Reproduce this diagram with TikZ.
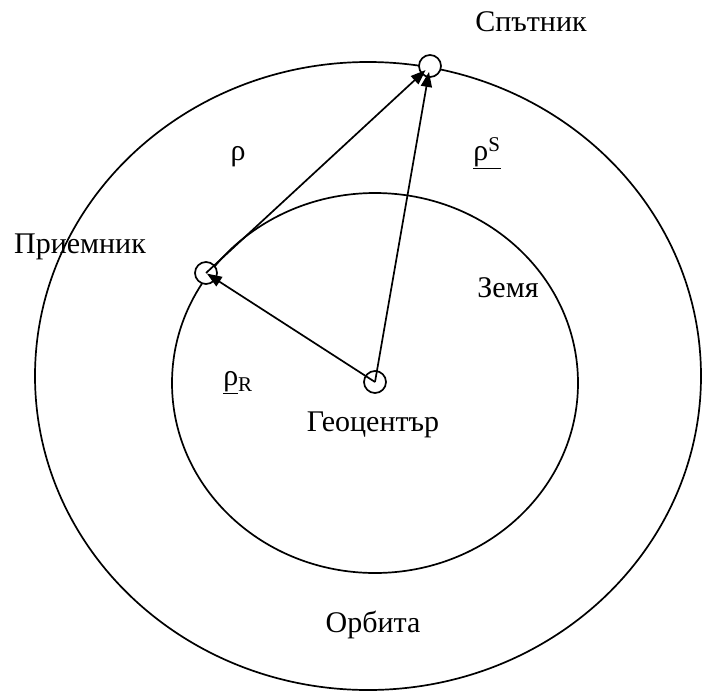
\documentclass[tikz,border=0pt]{standalone}
\usepackage{fontspec}
\setmainfont{Liberation Serif}
\usetikzlibrary{arrows.meta, positioning}

\begin{document}
\begin{tikzpicture}[
  x=1pt, y=-1pt,
  dot/.style={draw, circle, fill=white, minimum size=22pt, inner sep=0pt},
  lbl/.style={font=\fontsize{30}{36}\selectfont, inner sep=0pt},
  vec/.style={-{Triangle[length=15pt, width=11pt]}},
  line width=1.7pt
]
\useasboundingbox (0,0) rectangle (702,691);
% orbit and earth
\draw (368,376) ellipse [x radius=333, y radius=314];
\draw (375,383) ellipse [x radius=203, y radius=190];
\node[dot] (sat) at (430,66) {};
\node[dot] (rec) at (206,273) {};
\node[dot] (geo) at (375,382) {};
\draw[vec, shorten >=6pt] (geo.center) -- (sat.center);
\draw[vec, shorten >=6pt] (rec.center) -- (sat.center);
\draw[vec, shorten >=1pt] (geo.center) -- (rec.center);
% labels
\node[lbl] (satlbl) at (531,22) {Спътник};
\node[lbl] (reclbl) at (80,247) {Приемник};
\node[lbl] (earthlbl) at (508,288) {Земя};
\node[lbl] (geolbl) at (373,425) {Геоцентър};
\node[lbl] (orbitlbl) at (373,625) {Орбита};
\node[lbl] (rho) at (238,157) {ρ};
\node[lbl] (rhos) at (487,153) {\underline{ρ\textsuperscript{S}}};
\node[lbl] (rhor) at (238,383) {\underline{ρ}\textsubscript{R}};
\end{tikzpicture}
\end{document}
